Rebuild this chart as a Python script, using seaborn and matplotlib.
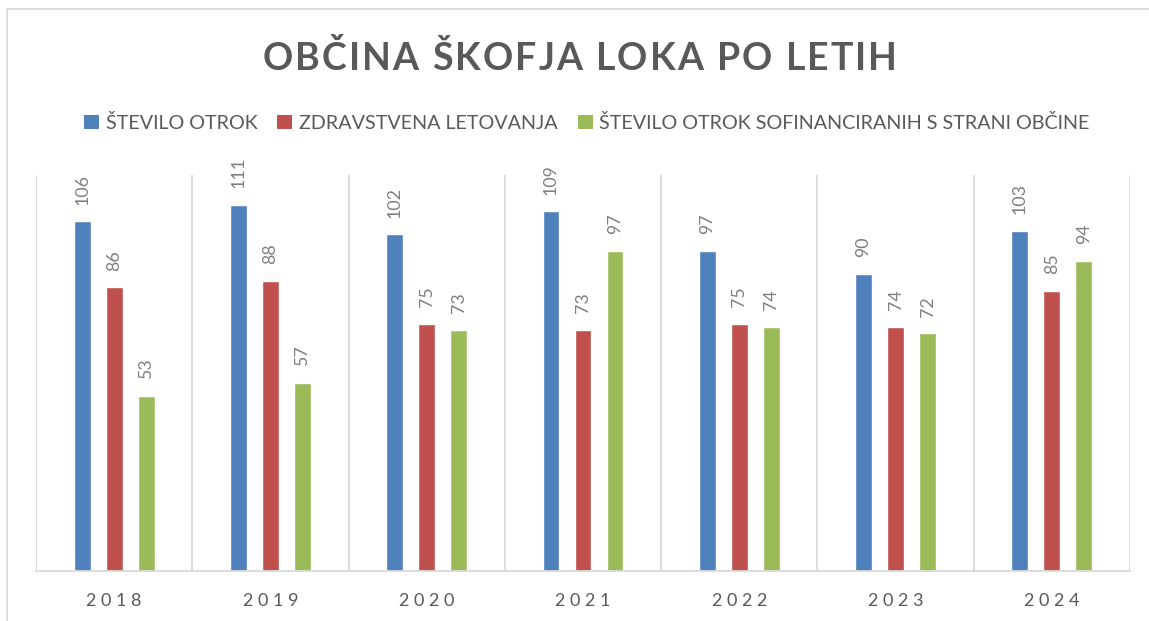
import numpy as np
import pandas as pd
import matplotlib
matplotlib.use("Agg")
import matplotlib.pyplot as plt
import seaborn as sns
from matplotlib.patches import Patch, Rectangle
from matplotlib.font_manager import FontProperties, findfont
from matplotlib.ft2font import FT2Font

# podatki
years = ["2018", "2019", "2020", "2021", "2022", "2023", "2024"]
series = ["ŠTEVILO OTROK", "ZDRAVSTVENA LETOVANJA", "ŠTEVILO OTROK SOFINANCIRANIH S STRANI OBČINE"]
stevilo_otrok = [106, 111, 102, 109, 97, 90, 103]
zdravstvena_letovanja = [86, 88, 75, 73, 75, 74, 85]
sofinancirani = [53, 57, 73, 97, 74, 72, 94]
colors = ["#4F81BD", "#C0504D", "#9BBB59"]

title = "OBČINA ŠKOFJA LOKA PO LETIH"

df = pd.DataFrame({
    "leto": years * 3,
    "serija": [series[0]] * 7 + [series[1]] * 7 + [series[2]] * 7,
    "vrednost": stevilo_otrok + zdravstvena_letovanja + sofinancirani,
})

sns.set_style("white")
plt.rcParams["font.family"] = ["Lato", "DejaVu Sans"]

W, H, DPI = 1149, 621, 100
fig = plt.figure(figsize=(W / DPI, H / DPI), dpi=DPI)
ax = fig.add_axes([36 / W, 1 - 571 / H, (1130 - 36) / W, (571 - 175) / H])

sns.barplot(data=df, x="leto", y="vrednost", hue="serija", palette=colors,
            width=0.614, gap=0.47, ax=ax, legend=False, saturation=1)

# oznake vrednosti nad stolpci
for cont in ax.containers:
    ax.bar_label(cont, rotation=90, padding=12, color="#7F7F7F", fontsize=12.8, clip_on=False)

ax.set_ylim(0, 120)
ax.set_xlim(-0.5, len(years) - 0.5)
ax.set_yticks([])
ax.set_xlabel("")
ax.set_ylabel("")
ax.set_xticks(range(len(years)))
ax.set_xticklabels([" ".join(y) for y in years], color="#595959", fontsize=13)
ax.tick_params(axis="x", length=0, pad=16)

# navpične mrežne črte med kategorijami
ax.set_xticks(np.arange(-0.5, len(years)), minor=True)
ax.tick_params(axis="x", which="minor", length=0)
ax.grid(True, which="minor", axis="x", color="#D9D9D9", linewidth=1.3)
ax.grid(False, which="major")
for s in ["top", "left", "right"]:
    ax.spines[s].set_visible(False)
ax.spines["bottom"].set_color("#D9D9D9")
ax.spines["bottom"].set_linewidth(1.3)

# legenda
handles = [Patch(facecolor=c, edgecolor="none") for c in colors]
fig.legend(handles, series, loc="center", bbox_to_anchor=(587 / W, 1 - 123 / H), ncol=3,
           frameon=False, fontsize=14.25, labelcolor="#595959", handlelength=0.75,
           handleheight=0.75, handletextpad=0.35, columnspacing=1.0)


# naslov z razmikom med črkami
def spaced_title(text, xc, ybase, size, track, color):
    fp = FontProperties(family="Lato", weight="bold", size=size)
    ft = FT2Font(findfont(fp), hinting_factor=1)
    ft.set_size(size, DPI)
    adv = [ft.load_char(ord(c)).linearHoriAdvance / 65536 for c in text]
    total = sum(adv) + track * (len(text) - 1)
    x = xc - total / 2
    for c, a in zip(text, adv):
        fig.text(x / W, 1 - ybase / H, c, fontproperties=fp, color=color,
                 ha="left", va="baseline")
        x += a + track


spaced_title(title, 580, 70, 27, 1.8, "#595959")

# okvir slike
fig.patches.append(Rectangle((7 / W, -0.2), 1.2, 1.2 - 9 / H, transform=fig.transFigure,
                             fill=False, edgecolor="#D9D9D9", linewidth=1.3))

fig.savefig("out.png", dpi=DPI)
